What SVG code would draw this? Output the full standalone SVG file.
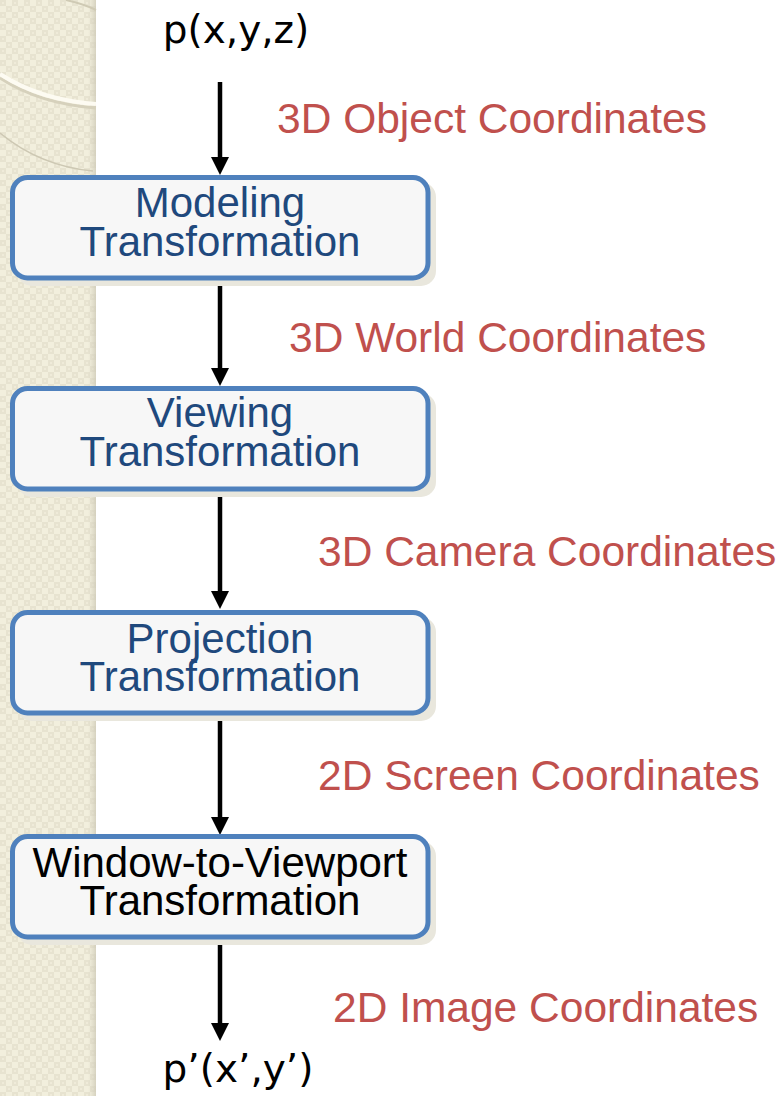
<svg xmlns="http://www.w3.org/2000/svg" width="781" height="1096" viewBox="0 0 781 1096">
<style>
.box{fill:#f7f7f7;stroke:#4f81bd;stroke-width:5}
.shadow{fill:#e9e7dd}
.bt{font-family:"Liberation Sans",Arial,sans-serif;font-size:42px;fill:#1f497d;text-anchor:middle}
.bt.k{fill:#000}
.lbl{font-family:"Liberation Sans",Arial,sans-serif;font-size:42.5px;fill:#c0504d}
.pt{font-family:"DejaVu Sans",Verdana,sans-serif;font-size:39px;fill:#000;text-anchor:middle}
.conn{stroke:#000;stroke-width:4.5;fill:none}
</style>
<defs>
<pattern id="chk" x="0" y="0" width="12" height="12" patternUnits="userSpaceOnUse">
<rect width="12" height="12" fill="#f2efdd"/>
<rect x="0" y="0" width="6" height="6" fill="#e7e3d0"/>
<rect x="6" y="6" width="6" height="6" fill="#e7e3d0"/>
<rect x="2" y="2" width="2" height="2" fill="#efebd9"/>
<rect x="8" y="8" width="2" height="2" fill="#efebd9"/>
</pattern>
<linearGradient id="edge" x1="0" x2="1" y1="0" y2="0">
<stop offset="0" stop-color="#d8d4c2" stop-opacity="0"/>
<stop offset="1" stop-color="#cfcbb8" stop-opacity="0.8"/>
</linearGradient>
<marker id="ah" viewBox="0 0 18 18" refX="8" refY="9" markerWidth="18" markerHeight="18" markerUnits="userSpaceOnUse" orient="auto">
<path d="M0,0 L18,9 L0,18 z" fill="#000"/>
</marker>
</defs>
<rect width="781" height="1096" fill="#fff"/>
<g id="background">
<rect x="0" y="0" width="96" height="1096" fill="url(#chk)"/>
<rect x="88" y="0" width="8" height="1096" fill="url(#edge)"/>
<path d="M66,0 Q84,4 96,10" fill="none" stroke="#cfcab4" stroke-width="2"/>
<path d="M0,78 Q40,104 96,108" fill="none" stroke="#d6d1bc" stroke-width="3"/>
<path d="M0,74 Q40,100 96,104" fill="none" stroke="#fdfbf2" stroke-width="4"/>
<path d="M0,133 Q40,166 93,171" fill="none" stroke="#cdc8b3" stroke-width="1.5"/>
</g>
<g id="connectors">
<line class="conn" x1="220" y1="82" x2="220" y2="165" marker-end="url(#ah)"/>
<line class="conn" x1="220" y1="280" x2="220" y2="376" marker-end="url(#ah)"/>
<line class="conn" x1="220" y1="491" x2="220" y2="599" marker-end="url(#ah)"/>
<line class="conn" x1="220" y1="715" x2="220" y2="825" marker-end="url(#ah)"/>
<line class="conn" x1="220" y1="939" x2="220" y2="1031" marker-end="url(#ah)"/>
</g>
<g id="start">
<text class="pt" x="236" y="43">p(x,y,z)</text>
</g>
<g id="modeling">
<rect class="shadow" x="17" y="182" width="419" height="104" rx="15"/>
<rect class="box" x="12.5" y="177.5" width="415.5" height="100.5" rx="15"/>
<text class="bt"><tspan x="220" y="217">Modeling</tspan><tspan x="220" y="256">Transformation</tspan></text>
</g>
<g id="viewing">
<rect class="shadow" x="17" y="393" width="419" height="104" rx="15"/>
<rect class="box" x="12.5" y="388.5" width="415.5" height="100.5" rx="15"/>
<text class="bt"><tspan x="220" y="427">Viewing</tspan><tspan x="220" y="466">Transformation</tspan></text>
</g>
<g id="projection">
<rect class="shadow" x="17" y="617" width="419" height="104" rx="15"/>
<rect class="box" x="12.5" y="612.5" width="415.5" height="100.5" rx="15"/>
<text class="bt"><tspan x="220" y="653">Projection</tspan><tspan x="220" y="691">Transformation</tspan></text>
</g>
<g id="window">
<rect class="shadow" x="17" y="841" width="419" height="104" rx="15"/>
<rect class="box" x="12.5" y="836.5" width="415.5" height="100.5" rx="15"/>
<text class="bt k"><tspan x="220" y="877">Window-to-Viewport</tspan><tspan x="220" y="915">Transformation</tspan></text>
</g>
<g id="end">
<text class="pt" x="238" y="1082">p’(x’,y’)</text>
</g>
<g id="labels">
<text class="lbl" x="277" y="133">3D Object Coordinates</text>
<text class="lbl" x="289" y="352">3D World Coordinates</text>
<text class="lbl" x="318" y="566">3D Camera Coordinates</text>
<text class="lbl" x="318" y="790">2D Screen Coordinates</text>
<text class="lbl" x="333" y="1022">2D Image Coordinates</text>
</g>
</svg>
